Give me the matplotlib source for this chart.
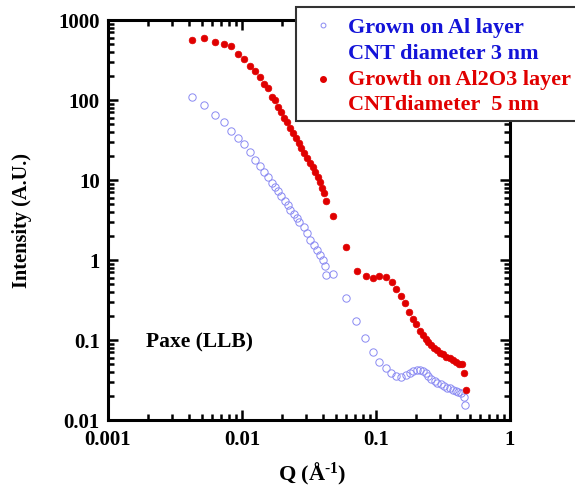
import matplotlib
matplotlib.use("Agg")
import matplotlib.pyplot as plt
from matplotlib.patches import Rectangle
from matplotlib.lines import Line2D
from matplotlib.ticker import LogLocator, NullFormatter, FixedLocator, FixedFormatter

plt.rcParams["mathtext.fontset"] = "custom"
plt.rcParams["mathtext.bf"] = "Liberation Serif:bold"
plt.rcParams["mathtext.rm"] = "Liberation Serif:bold"
plt.rcParams["mathtext.it"] = "Liberation Serif:italic"

# Red: growth on Al2O3 layer, CNT diameter 5 nm
q_red = [0.00423, 0.00522, 0.00628, 0.00733, 0.00832, 0.00933, 0.0104, 0.01148, 0.01257,
         0.01363, 0.01462, 0.0156, 0.01675, 0.01774, 0.01858, 0.01955, 0.0207, 0.0217,
         0.0230, 0.0241, 0.0253, 0.0265, 0.0277, 0.0292, 0.0306, 0.0320, 0.0338, 0.0353,
         0.0370, 0.0385, 0.0397, 0.0408, 0.0425, 0.0478, 0.0596, 0.0716, 0.0836, 0.0944,
         0.106, 0.1187, 0.131, 0.142, 0.1536, 0.1656, 0.176, 0.1888, 0.2003, 0.212,
         0.2233, 0.235, 0.246, 0.259, 0.271, 0.284, 0.3006, 0.3186, 0.335, 0.355, 0.376,
         0.396, 0.417, 0.442, 0.454, 0.468]
i_red = [562, 590, 535, 497, 469, 373, 325, 266, 230,
         192, 157, 140, 110, 100, 82.5, 71.4, 60, 52.6,
         44.3, 38.3, 33.2, 28.7, 24.9, 21.6, 18.7, 16.5, 14.4, 12.7,
         11.0, 9.5, 7.9, 6.8, 5.5, 3.58, 1.47, 0.729, 0.63, 0.601,
         0.63, 0.618, 0.531, 0.438, 0.355, 0.288, 0.224, 0.185, 0.157, 0.131,
         0.1155, 0.103, 0.0953, 0.0859, 0.0801, 0.075, 0.0694, 0.0663, 0.0618, 0.059, 0.0562,
         0.0526, 0.050, 0.0497, 0.0384, 0.0237]

# Blue: grown on Al layer, CNT diameter 3 nm
q_blue = [0.00423, 0.0052, 0.00624, 0.00728, 0.00828, 0.00933, 0.0103, 0.0114, 0.0125,
          0.01355, 0.0145, 0.0156, 0.0168, 0.0177, 0.0186, 0.0197, 0.0208, 0.0221,
          0.0230, 0.0243, 0.0258, 0.0268, 0.0289, 0.0306, 0.0324, 0.0343, 0.0364,
          0.0385, 0.0403, 0.0415, 0.0420, 0.0480, 0.0593, 0.0713, 0.0832, 0.0948,
          0.106, 0.118, 0.130, 0.142, 0.1545, 0.1665, 0.178, 0.189, 0.2013, 0.213,
          0.226, 0.236, 0.246, 0.259, 0.274, 0.287, 0.304, 0.322, 0.337, 0.355,
          0.374, 0.394, 0.412, 0.431, 0.450, 0.462]
i_blue = [108, 86.6, 64.9, 53.5, 41.3, 33.2, 27.9, 22.4, 17.6,
          15.0, 12.7, 11.0, 9.1, 8.1, 7.35, 6.37, 5.51, 4.87,
          4.22, 3.73, 3.32, 3.01, 2.61, 2.15, 1.78, 1.54, 1.33,
          1.155, 1.0, 0.841, 0.65, 0.665, 0.338, 0.171, 0.105, 0.0702,
          0.0536, 0.0443, 0.039, 0.0355, 0.0342, 0.0362, 0.0384, 0.041, 0.0422, 0.0422,
          0.041, 0.0384, 0.0355, 0.0325, 0.0307, 0.0292, 0.0279, 0.0266, 0.0254, 0.0249,
          0.0237, 0.0232, 0.0226, 0.0216, 0.0192, 0.0154]

x_ticks = [0.001, 0.01, 0.1, 1]
x_labels = ["0.001", "0.01", "0.1", "1"]
y_ticks = [0.01, 0.1, 1, 10, 100, 1000]
y_labels = ["0.01", "0.1", "1", "10", "100", "1000"]

legend_lines = [("Grown on Al layer", "#1414d8"), ("CNT diameter 3 nm", "#1414d8"),
                ("Growth on Al2O3 layer", "#e00000"), ("CNTdiameter  5 nm", "#e00000")]

W, H = 575, 498
fig = plt.figure(figsize=(W / 100, H / 100), dpi=100)
ax = fig.add_axes([108 / W, 1 - 420 / H, (510 - 108) / W, 400 / H])
ax.set_xscale("log")
ax.set_yscale("log")
ax.set_xlim(0.001, 1)
ax.set_ylim(0.01, 1000)

ax.plot(q_blue, i_blue, linestyle="none", marker="o", markersize=5.3,
        markerfacecolor="none", markeredgecolor="#8a8af2", markeredgewidth=0.7)
ax.plot(q_red, i_red, linestyle="none", marker="o", markersize=4.8,
        markerfacecolor="#e00000", markeredgecolor="#e00000", markeredgewidth=0.5)

serif = ["Liberation Serif", "DejaVu Serif"]
ax.xaxis.set_major_locator(FixedLocator(x_ticks))
ax.xaxis.set_major_formatter(FixedFormatter(x_labels))
ax.yaxis.set_major_locator(FixedLocator(y_ticks))
ax.yaxis.set_major_formatter(FixedFormatter(y_labels))
ax.xaxis.set_minor_locator(LogLocator(base=10, subs=range(2, 10), numticks=20))
ax.yaxis.set_minor_locator(LogLocator(base=10, subs=range(2, 10), numticks=20))
ax.xaxis.set_minor_formatter(NullFormatter())
ax.yaxis.set_minor_formatter(NullFormatter())
ax.tick_params(which="both", direction="in", top=True, right=True, width=1.8, colors="black")
ax.tick_params(which="major", length=7, labelsize=15)
ax.tick_params(axis="x", which="major", pad=7)
ax.tick_params(axis="y", which="major", pad=6)
ax.tick_params(which="minor", length=4)
for lab in ax.get_xticklabels() + ax.get_yticklabels():
    lab.set_family(serif)
    lab.set_fontweight("bold")
for s in ax.spines.values():
    s.set_linewidth(2.2)

fig.text(22 / W, 1 - 221 / H, "Intensity (A.U.)", fontsize=14.7, fontweight="bold",
         family=serif, rotation=90, va="center", ha="center")
fig.text(312 / W, 1 - 474 / H, r"Q ($\mathbf{\AA}^{\text{-1}}$)", fontsize=16,
         fontweight="bold", family=serif, va="center", ha="center")

fig.text(146 / W, 1 - 342 / H, "Paxe (LLB)", fontsize=15.5, fontweight="bold",
         family=serif, va="center", ha="left")

# legend box
rect = Rectangle((296 / W, 1 - 121 / H), (W + 10 - 296) / W, (121 - 7) / H,
                 transform=fig.transFigure, facecolor="white", edgecolor="#333333",
                 linewidth=1.5, zorder=10, clip_on=False)
fig.patches.append(rect)
fig.add_artist(Line2D([323 / W], [1 - 25 / H], transform=fig.transFigure, marker="o",
                      markersize=3.5, markerfacecolor="none", markeredgecolor="#8a8af2",
                      markeredgewidth=0.7, linestyle="none", zorder=11))
fig.add_artist(Line2D([323 / W], [1 - 79 / H], transform=fig.transFigure, marker="o",
                      markersize=4, markerfacecolor="#e00000", markeredgecolor="#e00000",
                      linestyle="none", zorder=11))
ys = [28, 54, 80, 105]
for (txt, col), yy in zip(legend_lines, ys):
    fig.text(348 / W, 1 - yy / H, txt, color=col, fontsize=16, fontweight="bold",
             family=serif, va="center", ha="left", zorder=12)

fig.savefig("out.png", dpi=100)
